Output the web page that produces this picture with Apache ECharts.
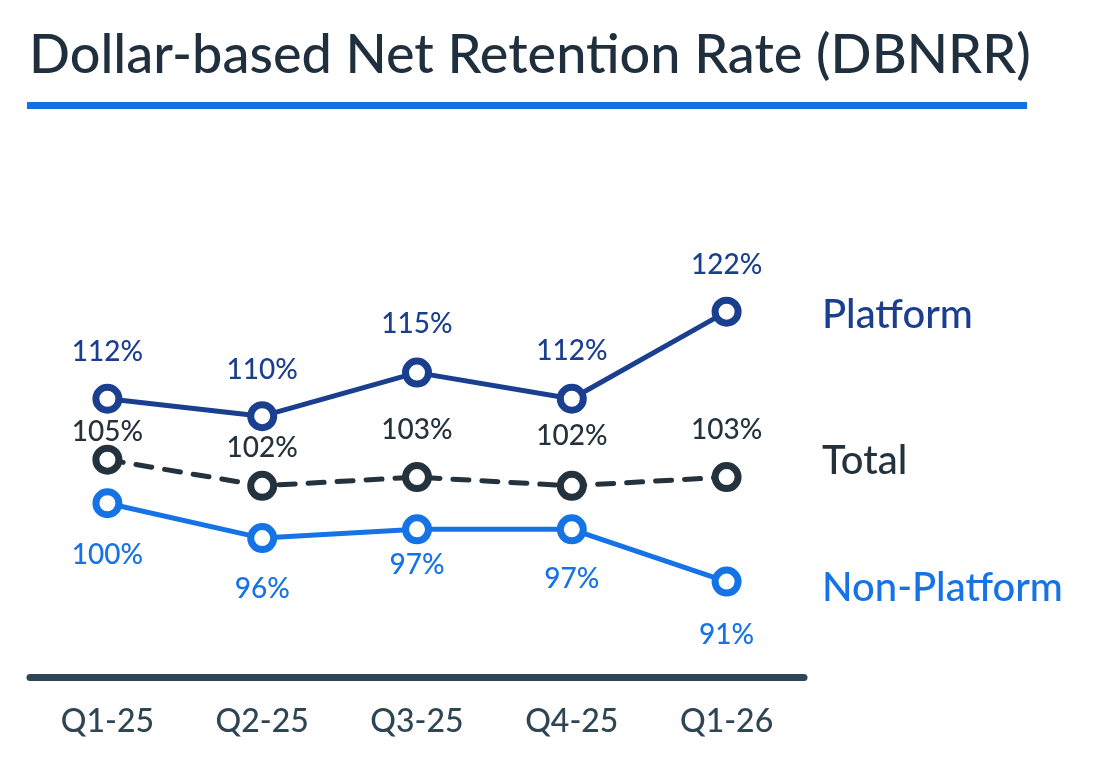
<!DOCTYPE html>
<html>
<head>
<meta charset="utf-8">
<script src="https://cdn.jsdelivr.net/npm/echarts@6/dist/echarts.min.js"></script>
<style>
  html, body { margin: 0; padding: 0; background: #fff; }
  #chart { width: 1106px; height: 766px; }
</style>
</head>
<body>
<div id="chart"></div>
<script>
// quarters on the x axis
const categories = ['Q1-25', 'Q2-25', 'Q3-25', 'Q4-25', 'Q1-26'];

// DBNRR in percent
const platform = [112, 110, 115, 112, 122];
const total = [105, 102, 103, 102, 103];
const nonPlatform = [100, 96, 97, 97, 91];

// vertical label shift (px) from each point, the source nudges a few of them
const platformShift = [-47, -46, -49, -48, -47];
const totalShift = [-28, -38, -47, -50, -47];
const nonPlatformShift = [52, 51, 36, 50, 53];

const FONT = 'Lato, "Noto Sans", sans-serif';
const C_PLAT = '#1b3f8f';
const C_NON = '#1573e6';
const C_TOTAL = '#24323d';

const chart = echarts.init(document.getElementById('chart'));

function buildData(values, shifts) {
  return values.map(function (v, i) {
    return { value: v, label: { offset: [0, shifts[i]] } };
  });
}

function lineSeries(name, values, shifts, color, dashed) {
  return {
    name: name,
    type: 'line',
    data: buildData(values, shifts),
    symbol: 'circle',
    symbolSize: 23,
    showAllSymbol: true,
    lineStyle: {
      color: color,
      width: 5,
      type: dashed ? [16, 13] : 'solid',
      cap: 'round'
    },
    itemStyle: { color: '#fff', borderColor: color, borderWidth: 7 },
    label: {
      show: true,
      position: 'inside',
      color: color,
      fontFamily: FONT,
      fontSize: 28,
      fontWeight: 500,
      formatter: '{c}%'
    },
    emphasis: { disabled: true },
    z: dashed ? 2 : 3
  };
}

const option = {
  animation: false,
  backgroundColor: '#fff',
  title: {
    text: 'Dollar-based Net Retention Rate (DBNRR)',
    left: 24,
    top: 24,
    textStyle: { color: '#1f2f3d', fontFamily: FONT, fontSize: 54, fontWeight: 500 }
  },
  grid: { left: 30, right: 302, top: 242, bottom: 88.6 },
  xAxis: {
    type: 'category',
    data: categories,
    boundaryGap: true,
    axisLine: { lineStyle: { color: '#2e4553', width: 7 } },
    axisTick: { show: false },
    axisLabel: { color: '#2e4553', fontFamily: FONT, fontSize: 32, fontWeight: 500, margin: 28 }
  },
  yAxis: {
    type: 'value',
    min: 80,
    max: 130,
    show: false
  },
  graphic: [
    { type: 'rect', shape: { x: 27, y: 102, width: 1000, height: 7 }, style: { fill: '#1371e5' } },
    { type: 'text', left: 822, top: 295, style: { text: 'Platform', fill: C_PLAT, font: '500 40px ' + FONT } },
    { type: 'text', left: 822, top: 441, style: { text: 'Total', fill: C_TOTAL, font: '500 40px ' + FONT } },
    { type: 'text', left: 822, top: 568, style: { text: 'Non-Platform', fill: C_NON, font: '500 40px ' + FONT } }
  ],
  series: [
    lineSeries('Total', total, totalShift, C_TOTAL, true),
    lineSeries('Non-Platform', nonPlatform, nonPlatformShift, C_NON, false),
    lineSeries('Platform', platform, platformShift, C_PLAT, false)
  ]
};

chart.setOption(option);
</script>
</body>
</html>
